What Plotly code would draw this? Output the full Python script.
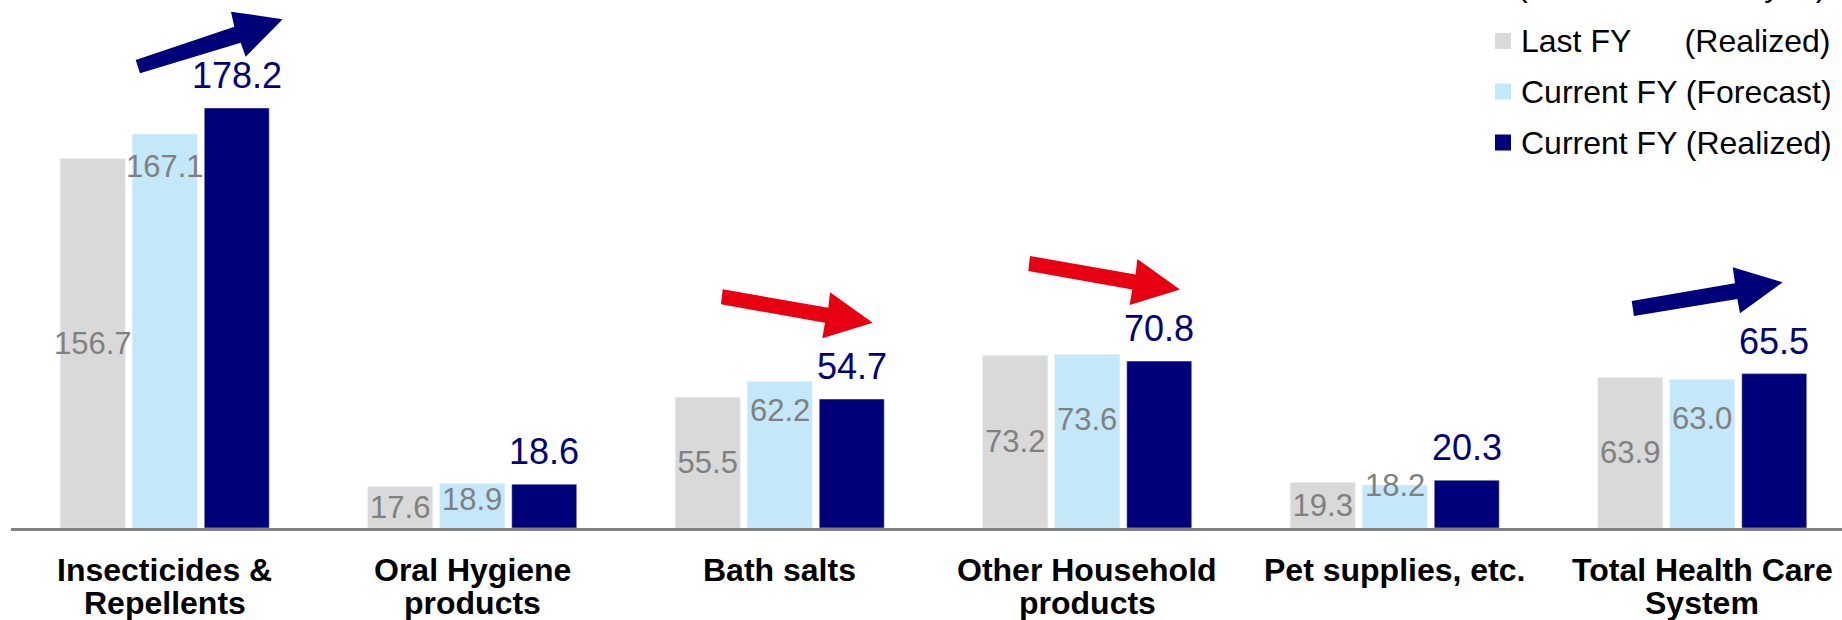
import plotly.graph_objects as go

# ---- data -------------------------------------------------------------
categories = [
    "Insecticides &<br>Repellents",
    "Oral Hygiene<br>products",
    "Bath salts",
    "Other Household<br>products",
    "Pet supplies, etc.",
    "Total Health Care<br>System",
]
last_fy = [156.7, 17.6, 55.5, 73.2, 19.3, 63.9]
forecast = [167.1, 18.9, 62.2, 73.6, 18.2, 63.0]
realized = [178.2, 18.6, 54.7, 70.8, 20.3, 65.5]

series_names = [
    "Last FY\u00a0\u00a0\u00a0\u00a0\u00a0\u00a0(Realized)",
    "Current FY (Forecast)",
    "Current FY (Realized)",
]
unit_label = "(Unit: 100 million yen)"

# ---- styling ----------------------------------------------------------
GREY = "#D9D9D9"
LIGHT_BLUE = "#C4E8FA"
NAVY = "#000078"
RED = "#E60012"
LABEL_GREY = "#808080"
FONT = "Arial, Liberation Sans, sans-serif"

W, H = 1842, 620
ML, MR, MT, MB = 11, 0, 0, 92
PW, PH = W - ML - MR, H - MT - MB
CAT_W = 307.5          # pixel width of one category slot
YMAX = 224.0
BAR_PITCH = 72         # pixel distance between neighbouring bars in a group

# how far below the bar top each forecast label sits (px)
forecast_label_drop = [32, 16.5, 29, 65, 0, 39]


def px(x):
    return (x - ML) / PW


def py(y):
    return (H - MB - y) / PH


fig = go.Figure()

fig.add_bar(
    x=categories, y=last_fy, name=series_names[0], marker_color=GREY,
    text=[f"{v:.1f}" for v in last_fy], textposition="inside",
    insidetextanchor="middle", textangle=0, constraintext="none",
    textfont=dict(size=31, color=LABEL_GREY, family=FONT),
)
fig.add_bar(
    x=categories, y=forecast, name=series_names[1], marker_color=LIGHT_BLUE,
)
fig.add_bar(
    x=categories, y=realized, name=series_names[2], marker_color=NAVY,
)

annotations = []

# forecast value labels
for cat, v, drop in zip(categories, forecast, forecast_label_drop):
    annotations.append(dict(
        x=cat, y=v, xref="x", yref="y", text=f"{v:.1f}", showarrow=False,
        yanchor="middle", yshift=-drop,
        font=dict(size=31, color=LABEL_GREY, family=FONT),
    ))

# realized value labels above the navy bars
for cat, v in zip(categories, realized):
    annotations.append(dict(
        x=cat, y=v, xref="x", yref="y", text=f"{v:.1f}", showarrow=False,
        xshift=BAR_PITCH, yanchor="bottom", yshift=10,
        font=dict(size=36, color=NAVY, family=FONT),
    ))

# category labels (two lines each, tighter than default line spacing)
for cat in categories:
    for i, line in enumerate(cat.split("<br>")):
        annotations.append(dict(
            x=cat, y=0, xref="x", yref="paper", text=f"<b>{line}</b>",
            showarrow=False, yanchor="top", yshift=-22 - 33 * i,
            font=dict(size=32, color="black", family=FONT),
        ))

# unit note at the top right
annotations.append(dict(
    x=px(1828), y=1, xref="paper", yref="paper", text=unit_label,
    showarrow=False, xanchor="right", yanchor="bottom", yshift=-5,
    font=dict(size=32, color="black", family=FONT),
))

# legend
shapes = []
legend_rows = [41, 91.5, 142.5]
for name, color, cy in zip(series_names, [GREY, LIGHT_BLUE, NAVY], legend_rows):
    shapes.append(dict(
        type="rect", xref="paper", yref="paper",
        x0=px(1495), x1=px(1511), y0=py(cy + 8), y1=py(cy - 8),
        fillcolor=color, line=dict(width=0),
    ))
    annotations.append(dict(
        x=px(1519), y=py(cy), xref="paper", yref="paper", text=name,
        showarrow=False, xanchor="left", yanchor="middle",
        font=dict(size=32, color="black", family=FONT),
    ))

# trend arrows
def arrow_path(pts):
    return "M " + " L ".join(f"{px(x):.5f},{py(y):.5f}" for x, y in pts) + " Z"


def shifted(pts, dx, dy):
    return [(x + dx, y + dy) for x, y in pts]


up_arrow_1 = [(135.7, 60), (234.3, 26.7), (231, 11.7), (282.7, 19.3),
              (245.7, 56.7), (240.7, 42.7), (140, 73.3)]
up_arrow_2 = [(1631.7, 301), (1735, 283.3), (1732.7, 267.3), (1782.7, 282.3),
              (1740, 313.3), (1737.3, 299), (1634, 316)]
down_arrow = [(722.7, 289.3), (828.3, 307.7), (830, 292.3), (872.7, 322.7),
              (822.3, 338.3), (825, 322.7), (721, 304.3)]

for pts, color in [
    (up_arrow_1, NAVY),
    (up_arrow_2, NAVY),
    (down_arrow, RED),
    (shifted(down_arrow, 307.3, -33.3), RED),
]:
    shapes.append(dict(
        type="path", xref="paper", yref="paper", path=arrow_path(pts),
        fillcolor=color, line=dict(width=0), layer="above",
    ))

fig.update_layout(
    width=W, height=H,
    margin=dict(l=ML, r=MR, t=MT, b=MB, pad=0, autoexpand=False),
    paper_bgcolor="white", plot_bgcolor="white",
    barmode="group", bargap=0.2976, bargroupgap=0.097,
    showlegend=False,
    font=dict(family=FONT),
    annotations=annotations, shapes=shapes,
    xaxis=dict(
        type="category", range=[-0.5, -0.5 + PW / CAT_W],
        showticklabels=False, ticks="", showgrid=False, zeroline=False,
        showline=True, linecolor="#808080", linewidth=3, fixedrange=True,
    ),
    yaxis=dict(
        range=[0, YMAX], visible=False, showgrid=False, zeroline=False,
        fixedrange=True,
    ),
)

fig.write_html("out.html", config={"displayModeBar": False})
